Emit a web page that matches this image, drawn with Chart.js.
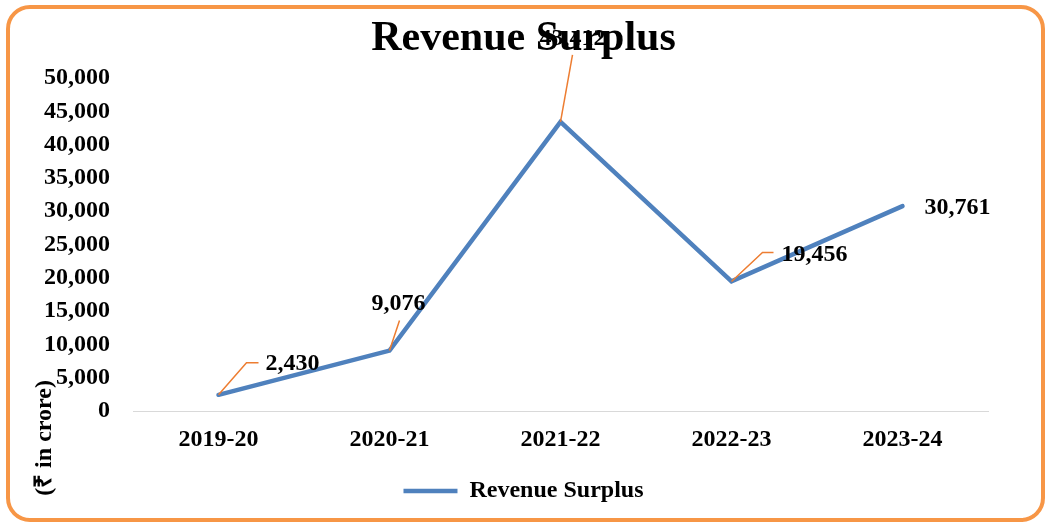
<!DOCTYPE html>
<html>
<head>
<meta charset="utf-8">
<script src="https://cdn.jsdelivr.net/npm/chart.js@4.4.0/dist/chart.umd.min.js"></script>
<style>
  html, body { margin: 0; padding: 0; background: #ffffff; }
  #wrap { position: relative; width: 1047px; height: 523px; overflow: hidden; }
  #frame { position: absolute; left: 6px; top: 5px; width: 1039px; height: 517px; box-sizing: border-box;
           border: 4px solid #F79646; border-radius: 24px; pointer-events: none; }
  canvas { position: absolute; left: 0; top: 0; }
</style>
</head>
<body>
<div id="wrap">
  <canvas id="c" width="1047" height="523"></canvas>
  <div id="frame"></div>
</div>
<script>
const categories = ['2019-20', '2020-21', '2021-22', '2022-23', '2023-24'];
const revenueSurplus = [2430, 9076, 43412, 19456, 30761];
const seriesName = 'Revenue Surplus';
const chartTitle = 'Revenue Surplus';
const yAxisTitle = '(₹ in crore)';
const yTicks = { min: 0, max: 50000, step: 5000 };

const FONT = "'Liberation Serif', 'Times New Roman', serif";
const fmt = v => Number(v).toLocaleString('en-US');

// label placement relative to each point: leader path and text anchor
const labelPlacement = [
  { path: [[0,0],[28,-32],[40,-32]], tx: 47, ty: -31, align: 'left' },
  { path: [[0,0],[10,-30]], tx: 9, ty: -47, align: 'center' },
  { path: [[0,0],[12,-67]], tx: 12, ty: -83, align: 'center' },
  { path: [[0,0],[31,-29],[42,-29]], tx: 50, ty: -27, align: 'left' },
  { path: null, tx: 22, ty: 2, align: 'left' }
];

const dataLabels = {
  id: 'dataLabels',
  afterDatasetsDraw(chart) {
    const ctx = chart.ctx;
    const meta = chart.getDatasetMeta(0);
    ctx.save();
    meta.data.forEach((pt, i) => {
      const p = labelPlacement[i];
      if (p.path) {
        ctx.beginPath();
        ctx.strokeStyle = '#ED7D31';
        ctx.lineWidth = 1.5;
        p.path.forEach(([dx, dy], k) => {
          if (k === 0) ctx.moveTo(pt.x + dx, pt.y + dy); else ctx.lineTo(pt.x + dx, pt.y + dy);
        });
        ctx.stroke();
      }
      ctx.fillStyle = '#000000';
      ctx.font = 'bold 24px ' + FONT;
      ctx.textAlign = p.align;
      ctx.textBaseline = 'middle';
      ctx.fillText(fmt(chart.data.datasets[0].data[i]), pt.x + p.tx, pt.y + p.ty);
    });
    ctx.restore();
  }
};

const yTitlePlugin = {
  id: 'yTitle',
  afterDraw(chart) {
    const ctx = chart.ctx;
    ctx.save();
    ctx.translate(45, 438);
    ctx.rotate(-Math.PI / 2);
    ctx.fillStyle = '#000000';
    ctx.font = 'bold 24px ' + FONT;
    ctx.textAlign = 'center';
    ctx.textBaseline = 'middle';
    ctx.fillText(yAxisTitle, 0, 0);
    ctx.restore();
  }
};

new Chart(document.getElementById('c'), {
  type: 'line',
  data: {
    labels: categories,
    datasets: [{
      label: seriesName,
      data: revenueSurplus,
      borderColor: '#4F81BD',
      backgroundColor: '#4F81BD',
      borderWidth: 4.5,
      borderCapStyle: 'round',
      borderJoinStyle: 'miter',
      pointRadius: 0,
      pointHoverRadius: 0,
      tension: 0,
      fill: false,
      yAxisID: 'y'
    }]
  },
  options: {
    responsive: false,
    animation: false,
    devicePixelRatio: 1,
    layout: { padding: { left: 40, right: 40, top: 0, bottom: 10 } },
    plugins: {
      title: {
        display: true,
        text: chartTitle,
        color: '#000000',
        font: { family: FONT, size: 42, weight: 'bold' },
        padding: { top: 14, bottom: 13.6 }
      },
      legend: {
        display: true,
        position: 'bottom',
        labels: {
          color: '#000000',
          font: { family: FONT, size: 24, weight: 'bold' },
          usePointStyle: true,
          pointStyle: 'line',
          pointStyleWidth: 54,
          padding: 10
        }
      },
      tooltip: { enabled: false }
    },
    scales: {
      x: {
        offset: true,
        grid: { display: false, drawTicks: false },
        border: { display: true, color: '#D9D9D9', width: 1 },
        afterFit(scale) { scale.height = 58; },
        ticks: { color: '#000000', font: { family: FONT, size: 24, weight: 'bold' }, padding: 14, maxRotation: 0 }
      },
      y: {
        position: 'left',
        min: yTicks.min,
        max: yTicks.max,
        grid: { display: false, drawTicks: false },
        border: { display: false },
        afterFit(scale) { scale.width = 93; },
        ticks: {
          stepSize: yTicks.step,
          color: '#000000',
          padding: 23,
          font: { family: FONT, size: 24, weight: 'bold' },
          callback: v => fmt(v)
        }
      },
      ySpacer: {
        type: 'linear',
        position: 'right',
        display: true,
        grid: { display: false, drawTicks: false },
        border: { display: false },
        ticks: { display: false },
        afterFit(scale) { scale.width = 19; }
      }
    }
  },
  plugins: [dataLabels, yTitlePlugin]
});
</script>
</body>
</html>
